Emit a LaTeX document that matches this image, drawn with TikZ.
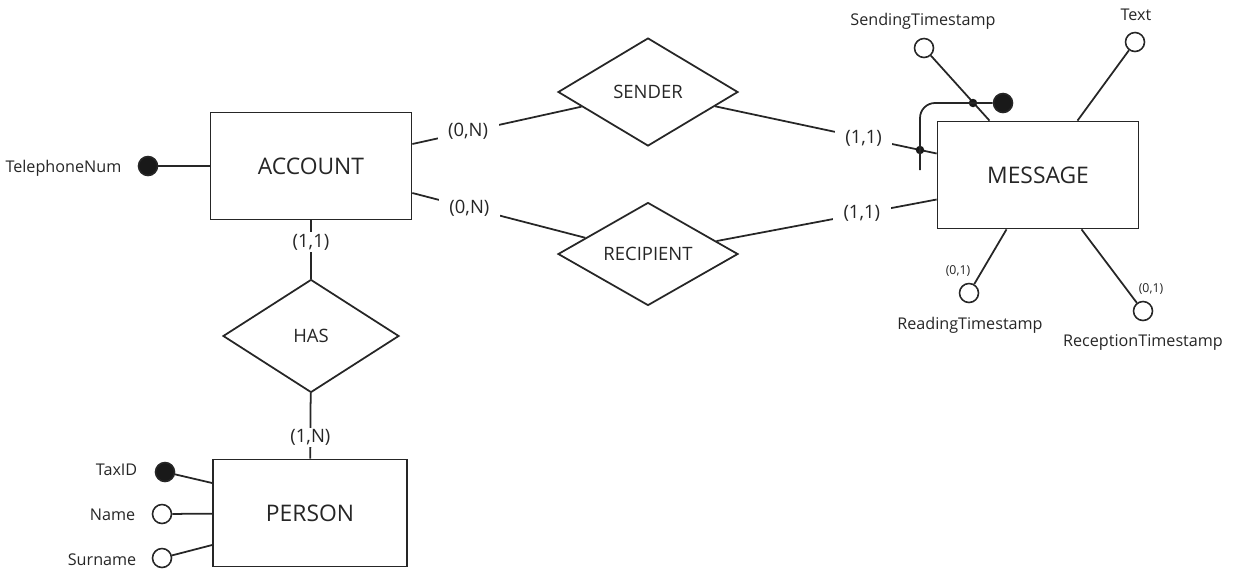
\documentclass[tikz,border=0pt]{standalone}
\usepackage{fontspec}
\setmainfont{Open Sans}
\usetikzlibrary{shapes.geometric}

\begin{document}
\begin{tikzpicture}[x=0.02cm,y=-0.02cm,line width=1pt,color=black!85,
    entity/.style={draw,rectangle,minimum width=4.02cm,minimum height=2.14cm,
      font=\fontsize{13}{15}\selectfont},
    relation/.style={draw,diamond,minimum width=3.6cm,minimum height=2.16cm,
      inner sep=0pt,font=\fontsize{10.5}{12}\selectfont},
    card/.style={fill=white,inner xsep=6pt,inner ysep=1pt,
      font=\fontsize{10.5}{12}\selectfont},
    attr/.style={draw,circle,minimum size=0.38cm,inner sep=0pt,fill=white,line width=0.9pt},
    key/.style={attr,fill=black!90},
    attrname/.style={font=\fontsize{9.2}{11}\selectfont},
    optcard/.style={font=\fontsize{7}{8}\selectfont},
    dot/.style={circle,fill=black!90,minimum size=0.17cm,inner sep=0pt}]
      \useasboundingbox (0,0) rectangle (1238,572);
      % entities and relationships
      \node[entity] (account) at (311,166) {ACCOUNT};
      \node[entity] (message) at (1038,175) {MESSAGE};
      \node[entity,minimum width=3.88cm] (person) at (310,513) {PERSON};
      \node[relation] (sender) at (648,92) {SENDER};
      \node[relation,minimum height=2.06cm] (recipient) at (648,254) {RECIPIENT};
      \node[relation,minimum width=3.52cm,minimum height=2.26cm] (has) at (311,336) {HAS};
      % attributes
      \node[key] (telnum) at (148,166) {};
      \node[attrname,anchor=east] (telnumname) at (128,168) {TelephoneNum};
      \node[key] (taxid) at (165,472) {};
      \node[attrname,anchor=east] (taxidname) at (144,470) {TaxID};
      \node[attr] (name) at (162,514) {};
      \node[attrname,anchor=east] (namename) at (142,515) {Name};
      \node[attr] (surname) at (162,558) {};
      \node[attrname,anchor=east] (surnamename) at (143,560) {Surname};
      \node[attr] (sendts) at (924,48) {};
      \node[attrname] (sendtsname) at (923,21) {SendingTimestamp};
      \node[attr] (text) at (1135,42) {};
      \node[attrname] (textname) at (1136,15) {Text};
      \node[attr] (readts) at (969,293) {};
      \node[attrname] (readtsname) at (970,325) {ReadingTimestamp};
      \node[optcard] (readtscard) at (958,271) {(0,1)};
      \node[attr] (rects) at (1143,311) {};
      \node[attrname] (rectsname) at (1143,343) {ReceptionTimestamp};
      \node[optcard] (rectscard) at (1151,289) {(0,1)};
      \draw (telnum) -- (account);
      \draw (taxid) -- ([yshift=0.6cm]person.west);
      \draw (name) -- (person);
      \draw (surname) -- ([yshift=-0.64cm]person.west);
      \draw (sendts) -- ([xshift=-0.97cm]message.north);
      \draw (text) -- ([xshift=0.79cm]message.north);
      \draw (readts) -- ([xshift=-0.63cm]message.south);
      \draw (rects) -- ([xshift=0.87cm]message.south);
      % relationships
      \draw ([yshift=0.44cm]account.east) -- node[card,pos=0.33] (sendacc) {(0,N)} (sender);
      \draw ([yshift=-0.54cm]account.east) -- node[card,pos=0.33] (recacc) {(0,N)} (recipient);
      \draw (sender) -- node[card,pos=0.67] (sendmsg) {(1,1)} ([yshift=0.43cm]message.west);
      \draw (recipient) -- node[card,pos=0.66] (recmsg) {(1,1)} ([yshift=-0.49cm]message.west);
      \draw (account) -- node[card,pos=0.37] (hasacc) {(1,1)} (has);
      \draw (has) -- node[card,pos=0.68] (hasper) {(1,N)} (person);
      % composite identifier of MESSAGE
      \node[key] (msgid) at (1003,103) {};
      \node[dot] (iddot1) at (973,103) {};
      \node[dot] (iddot2) at (920,150) {};
      \coordinate (idend) at (920,170);
      \draw[rounded corners=0.3cm] (idend) -- (iddot2.center) |- (msgid);
    \end{tikzpicture}
\end{document}
